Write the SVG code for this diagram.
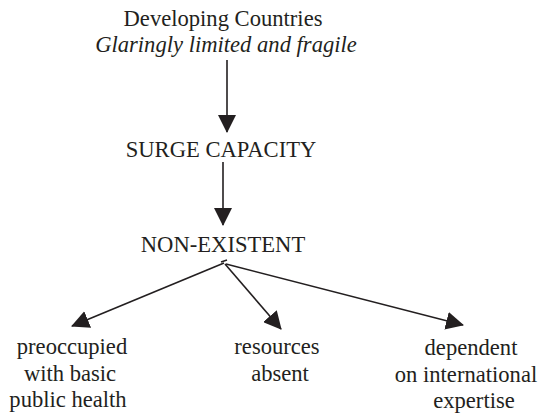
<svg xmlns="http://www.w3.org/2000/svg" width="540" height="414" viewBox="0 0 540 414">
<style>
text{font-family:'Liberation Serif','Times New Roman',Times,serif;font-size:22.6px;fill:#231f20;text-anchor:middle}
.it{font-style:italic}
.c{stroke:#231f20;stroke-width:1.6;fill:none}
</style>
<defs>
<marker id="ah" viewBox="0 0 18 18" refX="17" refY="9" markerWidth="18" markerHeight="18" markerUnits="userSpaceOnUse" orient="auto">
<path d="M0,0 L18,9 L0,18 z" fill="#231f20"/>
</marker>
</defs>
<rect width="540" height="414" fill="#fff"/>
<g id="n-developing">
<text x="223" y="26">Developing Countries</text>
<text class="it" x="226" y="52">Glaringly limited and fragile</text>
</g>
<g id="n-surge"><text x="221" y="157">SURGE CAPACITY</text></g>
<g id="n-nonexistent"><text x="223" y="252">NON-EXISTENT</text></g>
<g id="n-preoccupied">
<text x="72" y="354">preoccupied</text>
<text x="70" y="381">with basic</text>
<text x="68" y="407">public health</text>
</g>
<g id="n-resources">
<text x="277" y="354">resources</text>
<text x="280" y="381">absent</text>
</g>
<g id="n-dependent">
<text x="471" y="355">dependent</text>
<text x="466" y="382">on international</text>
<text x="474" y="408">expertise</text>
</g>
<g id="connectors" class="c">
<line x1="227" y1="60" x2="227" y2="132" marker-end="url(#ah)"/>
<line x1="223" y1="162" x2="223" y2="225" marker-end="url(#ah)"/>
<line x1="224" y1="263" x2="72" y2="326" marker-end="url(#ah)"/>
<line x1="225" y1="264" x2="281" y2="329" marker-end="url(#ah)"/>
<line x1="226" y1="264" x2="463" y2="325" marker-end="url(#ah)"/>
<line x1="221" y1="262" x2="227" y2="260"/>
</g>
</svg>
